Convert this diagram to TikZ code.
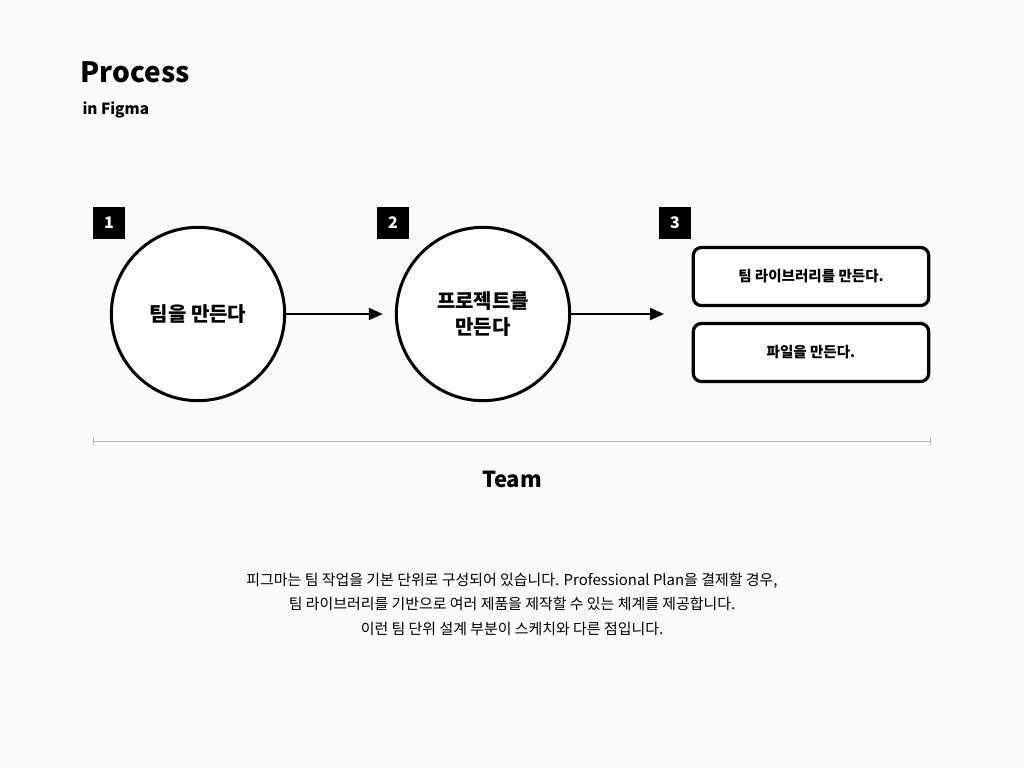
\documentclass[tikz,border=0pt]{standalone}
\usepackage{fontspec}
\setmainfont{Noto Sans CJK KR}
\usetikzlibrary{arrows.meta}
\definecolor{bgpaper}{RGB}{250,250,250}
\definecolor{rulegray}{RGB}{180,180,180}
\tikzset{every picture/.style={line width=0.75pt}}

\begin{document}
\begin{tikzpicture}[x=0.75pt,y=0.75pt,yscale=-1,xscale=1,
  stepcircle/.style={draw,line width=2.25pt,circle,fill=white,minimum size=130pt,inner sep=0pt,align=center,font=\bfseries\fontsize{15}{19.5}\selectfont},
  stepnum/.style={fill=black,text=white,minimum size=24pt,inner sep=0pt,font=\bfseries\fontsize{12}{14}\selectfont},
  taskbox/.style={draw,line width=2.4pt,rounded corners=6pt,fill=white,minimum width=176.5pt,minimum height=43.5pt,inner sep=0pt,font=\bfseries\fontsize{10.9}{13}\selectfont},
  flow/.style={line width=1.5pt,-{Triangle[length=10.5pt,width=9pt]}}]
%set diagram size 1024 x 768
\fill[bgpaper] (0,0) rectangle (1024,768);

% Text Node
\draw (80,72) node [anchor=west][inner sep=0pt]  [font=\bfseries\fontsize{21}{25}\selectfont]  {Process};
% Text Node
\draw (82,110) node [anchor=west][inner sep=0pt]  [font=\bfseries\fontsize{11.5}{14}\selectfont]  {in Figma};

%Shape: Circle
\node [stepcircle] (team) at (198,314) {팀을 만든다};
%Shape: Circle
\node [stepcircle] (project) at (483,314) {프로젝트를\\만든다};
%Shape: Rectangle
\node [taskbox] (library) at (811,276.5) {팀 라이브러리를 만든다.};
%Shape: Rectangle
\node [taskbox] (file) at (811,352.5) {파일을 만든다.};

%Shape: Square
\node [stepnum] (n1) at (109,223) {1};
\node [stepnum] (n2) at (393,223) {2};
\node [stepnum] (n3) at (675,223) {3};

%Straight Lines
\coordinate (end3) at (664,314);
\draw [flow,shorten >=9pt] (team) -- (project);
\draw [flow] (project) -- (end3);

%Straight Lines
\coordinate (ruleL) at (93,441);
\coordinate (ruleR) at (931,441);
\draw [rulegray,{Bar[width=6pt]}-{Bar[width=6pt]}] (ruleL) -- (ruleR);

% Text Node
\draw (512,479) node [inner sep=0pt]  [font=\fontsize{16.5}{20}\selectfont\bfseries]  {Team};

% Text Node
\draw (512,604) node [inner sep=0pt,align=center]  [font=\fontsize{11.2}{18.4}\selectfont]  {피그마는 팀 작업을 기본 단위로 구성되어 있습니다. Professional Plan을 결제할 경우,\\팀 라이브러리를 기반으로 여러 제품을 제작할 수 있는 체계를 제공합니다.\\이런 팀 단위 설계 부분이 스케치와 다른 점입니다.};

\end{tikzpicture}
\end{document}
